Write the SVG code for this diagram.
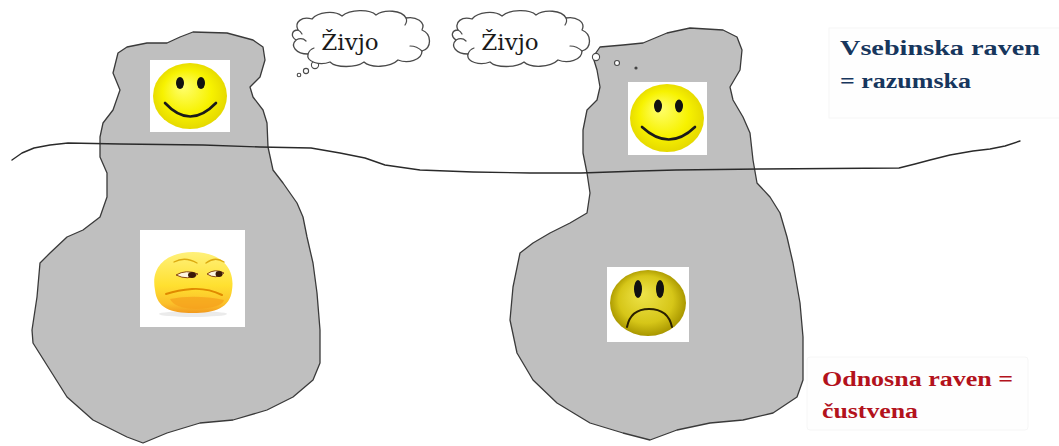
<svg xmlns="http://www.w3.org/2000/svg" width="1059" height="446" viewBox="0 0 1059 446">
  <style>
    .blob { fill: #bfbfbf; stroke: #3a3a3a; stroke-width: 1.3; stroke-linejoin: round; }
    .cloud { fill: #ffffff; stroke: #4a4a4a; stroke-width: 1.3; stroke-linejoin: round; }
    .curl { fill: none; stroke: #4a4a4a; stroke-width: 1.2; stroke-linecap: round; }
    .bubble { fill: #ffffff; stroke: #4a4a4a; stroke-width: 1.1; }
    .say { font-family: "DejaVu Serif", "Liberation Serif", serif; font-size: 23px; fill: #1a1a1a; }
    .card { fill: #ffffff; }
    .eye { fill: #111111; }
    .mouth { fill: none; stroke: #1a1a1a; stroke-width: 2.6; stroke-linecap: round; }
    .lbl { font-family: "Liberation Serif", "Times New Roman", serif; font-weight: bold; font-size: 20px; }
    .blue { fill: #17365d; }
    .red { fill: #b3121c; }
    .panel { fill: #fefefe; stroke: #f6f6f6; stroke-width: 1; }
    .water { fill: none; stroke: #2a2a2a; stroke-width: 1.4; stroke-linejoin: round; stroke-linecap: round; }
  </style>
  <defs>
    <radialGradient id="happy" cx="0.5" cy="0.5" r="0.55" fx="0.4" fy="0.35">
      <stop offset="0" stop-color="#ffff70"/>
      <stop offset="0.6" stop-color="#f7f200"/>
      <stop offset="0.92" stop-color="#e6da00"/>
      <stop offset="1" stop-color="#c9b800"/>
    </radialGradient>
    <radialGradient id="gloomy" cx="0.5" cy="0.5" r="0.55" fx="0.42" fy="0.35">
      <stop offset="0" stop-color="#efe44a"/>
      <stop offset="0.65" stop-color="#d6c618"/>
      <stop offset="0.92" stop-color="#aa9800"/>
      <stop offset="1" stop-color="#7a6a00"/>
    </radialGradient>
    <linearGradient id="weary" x1="0" y1="0" x2="0" y2="1">
      <stop offset="0" stop-color="#fff17a"/>
      <stop offset="0.55" stop-color="#ffe030"/>
      <stop offset="0.85" stop-color="#fbbf2a"/>
      <stop offset="1" stop-color="#f29a1e"/>
    </linearGradient>
    <path id="cloudShape" d="M 8,22 C 4,14 12,8 22,11 C 28,4 44,2 52,8 C 60,1 80,1 86,7 C 94,1 112,2 116,10 C 126,8 136,14 132,22 C 142,26 142,40 132,43 C 132,52 118,56 108,52 C 100,60 80,60 74,54 C 66,60 46,60 40,54 C 30,58 16,54 18,46 C 6,46 0,38 6,32 C 0,28 2,22 8,22 Z"/>
    <g id="cloudCurls">
      <path class="curl" d="M 6,32 C 10,30 14,31 16,33"/>
      <path class="curl" d="M 18,46 C 19,43 21,41 24,40"/>
      <path class="curl" d="M 132,43 C 129,40 125,38 120,38"/>
      <path class="curl" d="M 116,10 C 117,12 117,14 115,17"/>
      <path class="curl" d="M 8,22 C 10,23 11,24 12,26"/>
    </g>
  </defs>

  <rect width="1059" height="446" fill="#ffffff"/>

  <!-- faint label panels -->
  <rect class="panel" x="829" y="28" width="232" height="90"/>
  <rect class="panel" x="807" y="357" width="221" height="73" rx="3"/>

  <!-- two icebergs -->
  <g id="iceberg-left">
    <path class="blob" d="M 180,37 L 193,32 L 227,33 L 253,40 L 263,47 L 265,60 L 260,77 L 250,87 L 253,97 L 263,110 L 267,123 L 268,147 L 273,170 L 283,183 L 297,203 L 303,217 L 307,237 L 313,263 L 317,293 L 320,330 L 320,363 L 313,380 L 293,397 L 267,410 L 233,420 L 200,423 L 167,433 L 143,443 L 127,437 L 93,420 L 67,397 L 50,370 L 33,343 L 32,330 L 37,297 L 40,263 L 50,253 L 67,237 L 83,230 L 100,217 L 107,197 L 107,173 L 100,157 L 100,137 L 103,123 L 113,110 L 120,90 L 113,73 L 118,53 L 127,47 L 147,43 L 167,43 Z"/>
  </g>
  <g id="iceberg-right">
    <path class="blob" d="M 600,47 L 623,45 L 643,43 L 667,33 L 690,28 L 723,30 L 737,37 L 742,50 L 740,70 L 730,87 L 733,100 L 743,117 L 750,133 L 753,160 L 757,183 L 770,197 L 780,213 L 787,237 L 793,263 L 800,303 L 803,337 L 803,380 L 797,397 L 773,413 L 743,420 L 710,423 L 677,430 L 650,440 L 623,433 L 590,423 L 557,403 L 533,380 L 517,353 L 510,320 L 513,287 L 520,253 L 533,243 L 550,233 L 570,223 L 587,213 L 590,193 L 587,173 L 583,153 L 583,130 L 587,110 L 597,100 L 600,87 L 597,70 L 593,57 Z"/>
  </g>

  <!-- water surface -->
  <g id="waterline">
    <path class="water" d="M 12,160 L 22,153 L 34,148 L 50,145 L 68,143 L 120,144 L 203,145 L 260,147 L 311,148 L 340,153 L 365,158 L 385,165 L 420,170 L 473,172 L 530,173 L 581,173 L 640,171 L 676,170 L 760,169 L 899,168 L 915,164 L 930,160 L 950,155 L 973,151 L 990,149 L 1005,146 L 1020,141"/>
  </g>

  <!-- smiling face, left top -->
  <g id="face-left-top">
    <rect class="card" x="150" y="60" width="80" height="72"/>
    <ellipse cx="190" cy="96" rx="37" ry="33" fill="url(#happy)"/>
    <ellipse class="eye" cx="180" cy="83" rx="4" ry="6"/>
    <ellipse class="eye" cx="201" cy="83" rx="4" ry="6"/>
    <path class="mouth" d="M 165,103 Q 190,130 216,103"/>
  </g>

  <!-- weary face, left bottom -->
  <g id="face-left-bottom">
    <rect class="card" x="140" y="230" width="105" height="97"/>
    <ellipse cx="193" cy="314" rx="34" ry="3" fill="#e6e6e6" opacity="0.8"/>
    <path d="M 155,290 C 150,264 170,252 193,252 C 216,252 236,264 232,290 C 230,308 215,313 193,313 C 170,313 157,308 155,290 Z" fill="url(#weary)"/>
    <path d="M 174,262 Q 185,256 197,263" fill="none" stroke="#dcaa10" stroke-width="1.4" stroke-linecap="round"/>
    <path d="M 206,263 Q 215,256 224,262" fill="none" stroke="#dcaa10" stroke-width="1.4" stroke-linecap="round"/>
    <path d="M 176,275 Q 186,269 198,274 Q 188,281 176,275 Z" fill="#fff6e0" stroke="#8a4a10" stroke-width="1"/>
    <ellipse cx="192" cy="275" rx="4" ry="3" fill="#3b1a08"/>
    <path d="M 207,274 Q 215,268 224,273 Q 216,280 207,274 Z" fill="#fff6e0" stroke="#8a4a10" stroke-width="1"/>
    <ellipse cx="219" cy="274" rx="3.5" ry="3" fill="#3b1a08"/>
    <path d="M 166,294 Q 178,290 192,289 Q 208,288 222,295" fill="none" stroke="#e08a00" stroke-width="2" stroke-linecap="round"/>
    <path d="M 170,299 Q 195,294 224,300 Q 222,308 196,309 Q 174,308 170,299 Z" fill="#f5a21c" opacity="0.75"/>
  </g>

  <!-- smiling face, right top -->
  <g id="face-right-top">
    <rect class="card" x="628" y="82" width="79" height="73"/>
    <ellipse cx="667" cy="118" rx="37" ry="34" fill="url(#happy)"/>
    <ellipse class="eye" cx="658" cy="106" rx="4" ry="6.5"/>
    <ellipse class="eye" cx="679" cy="106" rx="4" ry="6.5"/>
    <path class="mouth" d="M 642,127 Q 669,152 695,127"/>
  </g>

  <!-- sad face, right bottom -->
  <g id="face-right-bottom">
    <rect class="card" x="607" y="267" width="82" height="75"/>
    <ellipse cx="648" cy="303" rx="38" ry="33" fill="url(#gloomy)"/>
    <ellipse class="eye" cx="638" cy="289" rx="4" ry="9"/>
    <ellipse class="eye" cx="660" cy="289" rx="4" ry="9"/>
    <path d="M 627,327 C 630,312 640,309 649,309 C 659,309 669,313 672,327" fill="none" stroke="#2a2000" stroke-width="2" stroke-linecap="round"/>
  </g>

  <!-- thought clouds -->
  <g id="thought-left">
    <circle class="bubble" cx="299" cy="75" r="1.8"/>
    <circle class="bubble" cx="306" cy="71" r="2.6"/>
    <circle class="bubble" cx="315" cy="65" r="3.6"/>
    <g transform="translate(290,8)">
      <use href="#cloudShape" class="cloud"/>
      <use href="#cloudCurls"/>
    </g>
    <text class="say" x="350" y="50" text-anchor="middle">Živjo</text>
  </g>
  <g id="thought-right">
    <circle class="bubble" cx="596" cy="57" r="3.6"/>
    <circle class="bubble" cx="617" cy="63" r="2.5"/>
    <circle cx="636" cy="68" r="1.6" fill="#444444"/>
    <g transform="translate(450,8)">
      <use href="#cloudShape" class="cloud"/>
      <use href="#cloudCurls"/>
    </g>
    <text class="say" x="510" y="50" text-anchor="middle">Živjo</text>
  </g>

  <!-- level labels -->
  <g id="label-content">
    <text class="lbl blue" x="840" y="55" textLength="200" lengthAdjust="spacingAndGlyphs">Vsebinska raven</text>
    <text class="lbl blue" x="840" y="88" textLength="131" lengthAdjust="spacingAndGlyphs">= razumska</text>
  </g>
  <g id="label-relation">
    <text class="lbl red" x="822" y="386" textLength="191" lengthAdjust="spacingAndGlyphs">Odnosna raven =</text>
    <text class="lbl red" x="822" y="418" textLength="96" lengthAdjust="spacingAndGlyphs">čustvena</text>
  </g>
</svg>
